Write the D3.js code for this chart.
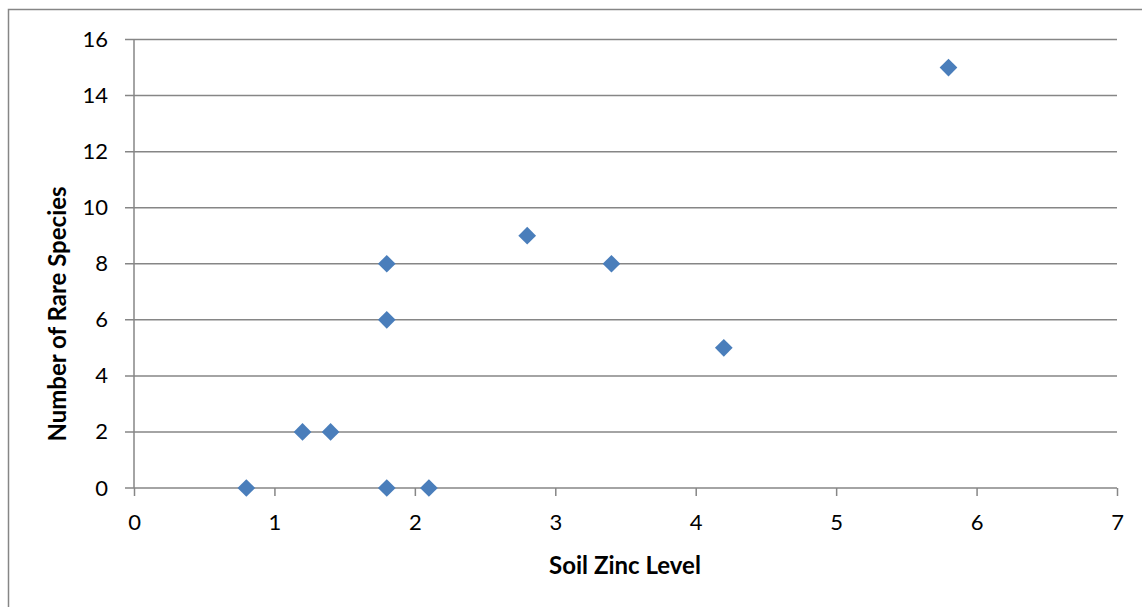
<!DOCTYPE html>
<html>
<head>
<meta charset="utf-8">
<script src="https://cdn.jsdelivr.net/npm/d3@7"></script>
<style>
  body { margin: 0; background: #fff; }
  svg { display: block; font-family: Lato, "Open Sans", sans-serif; }
</style>
</head>
<body>
<div id="chart"></div>
<script>
// soil zinc level vs number of rare species
const zinc = [0.8, 1.2, 1.4, 1.8, 1.8, 1.8, 2.1, 2.8, 3.4, 4.2, 5.8];
const species = [0, 2, 2, 8, 6, 0, 0, 9, 8, 5, 15];
const xTicks = [0, 1, 2, 3, 4, 5, 6, 7];
const yTicks = [0, 2, 4, 6, 8, 10, 12, 14, 16];

const width = 1142, height = 607;
const margin = {top: 39.5, right: 25, bottom: 119, left: 134};
const w = width - margin.left - margin.right;
const h = height - margin.top - margin.bottom;

const svg = d3.select('#chart').append('svg')
    .attr('width', width)
    .attr('height', height);

// outer chart border (runs off the right / bottom edge)
svg.append('rect')
    .attr('x', 8.5).attr('y', 9.5)
    .attr('width', 1300).attr('height', 700)
    .attr('fill', 'none')
    .attr('stroke', '#868686')
    .attr('stroke-width', 1.5);

const g = svg.append('g')
    .attr('transform', 'translate(' + margin.left + ',' + margin.top + ')');

let x = d3.scaleLinear().domain([0, 7]).range([0, w]);
let y = d3.scaleLinear().domain([0, 16]).range([h, 0]);

// gridlines
g.selectAll('.grid')
    .data(yTicks)
    .enter().append('line')
    .attr('x1', -9).attr('x2', w)
    .attr('y1', d => y(d)).attr('y2', d => y(d))
    .attr('stroke', '#868686')
    .attr('stroke-width', 1.5);

// y axis line
g.append('line')
    .attr('x1', 0).attr('x2', 0)
    .attr('y1', 0).attr('y2', h)
    .attr('stroke', '#868686').attr('stroke-width', 1.5);

// x axis
let xAxis = d3.axisBottom(x).tickValues(xTicks).tickFormat(d3.format('d'))
    .tickSize(8).tickPadding(18);
let gx = g.append('g')
    .attr('transform', 'translate(0,' + h + ')')
    .call(xAxis);
gx.select('.domain').remove();
gx.selectAll('line').attr('stroke', '#868686').attr('stroke-width', 1.5);
gx.selectAll('text').attr('font-size', 22).attr('fill', '#000')
    .attr('font-family', 'Lato, "Open Sans", sans-serif');

// y axis labels
let yAxis = d3.axisLeft(y).tickValues(yTicks).tickFormat(d3.format('d'))
    .tickSize(0).tickPadding(26);
let gy = g.append('g').call(yAxis);
gy.select('.domain').remove();
gy.selectAll('text').attr('font-size', 22).attr('fill', '#000')
    .attr('font-family', 'Lato, "Open Sans", sans-serif');

// points
const diamond = d3.symbol().type(d3.symbolDiamond2).size(200);
g.selectAll('.pt')
    .data(zinc.map((z, i) => ({z: z, s: species[i]})))
    .enter().append('path')
    .attr('d', diamond)
    .attr('transform', d => 'translate(' + x(d.z) + ',' + y(d.s) + ')')
    .attr('fill', '#4A7EBB');

// axis titles
svg.append('text')
    .attr('x', 625).attr('y', 574)
    .attr('text-anchor', 'middle')
    .attr('font-size', 24).attr('font-weight', 'bold')
    .text('Soil Zinc Level');

svg.append('text')
    .attr('transform', 'translate(66,314) rotate(-90)')
    .attr('text-anchor', 'middle')
    .attr('font-size', 24).attr('font-weight', 'bold')
    .text('Number of Rare Species');
</script>
</body>
</html>
